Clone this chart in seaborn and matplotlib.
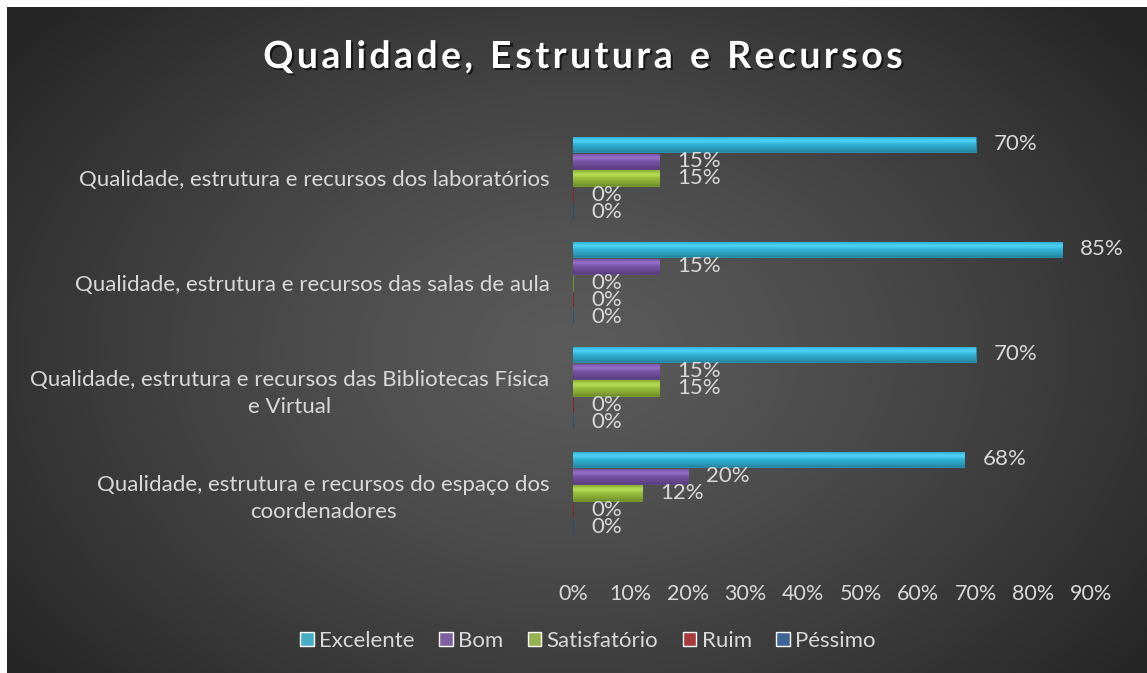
import numpy as np
import pandas as pd
import matplotlib
matplotlib.use("Agg")
import matplotlib.pyplot as plt
import matplotlib.patheffects as pe
from matplotlib.colors import to_rgb
from matplotlib.ticker import PercentFormatter
import seaborn as sns

categories = [
    "Qualidade, estrutura e recursos dos laboratórios",
    "Qualidade, estrutura e recursos das salas de aula",
    "Qualidade, estrutura e recursos das Bibliotecas Física\ne Virtual",
    "Qualidade, estrutura e recursos do espaço dos\ncoordenadores",
]
series = ["Excelente", "Bom", "Satisfatório", "Ruim", "Péssimo"]
excelente = [0.70, 0.85, 0.70, 0.68]
bom = [0.15, 0.15, 0.15, 0.20]
satisfatorio = [0.15, 0.00, 0.15, 0.12]
ruim = [0.00, 0.00, 0.00, 0.00]
pessimo = [0.00, 0.00, 0.00, 0.00]
xticks = [0.0, 0.1, 0.2, 0.3, 0.4, 0.5, 0.6, 0.7, 0.8, 0.9]
title = "Qualidade, Estrutura e Recursos"

colors = ["#33b9de", "#7c56ad", "#9cc43c", "#b8282b", "#2f62a6"]
edge_colors = ["#2792b3", "#5f4290", "#7aa02a", "#8a1c1f", "#234c84"]

rows = []
for s, vals in zip(series, [excelente, bom, satisfatorio, ruim, pessimo]):
    for c, v in zip(categories, vals):
        rows.append({"categoria": c, "serie": s, "valor": v})
df = pd.DataFrame(rows)

sns.set_style("white")
plt.rcParams["font.family"] = ["Lato", "DejaVu Sans"]

W, H = 1147, 673
fig = plt.figure(figsize=(W / 100, H / 100), dpi=100, facecolor="white")

# radial gradient background
bg = fig.add_axes([7 / W, 0, (W - 7) / W, (H - 7) / H])
bw, bh = W - 7, H - 7
yy, xx = np.mgrid[0:bh, 0:bw]
cx, cy = bw * 0.50, bh * 0.52
d = np.sqrt(((xx - cx) / (bw * 0.62)) ** 2 + ((yy - cy) / (bh * 0.75)) ** 2)
d = np.clip(d, 0, 1)
val = 0.355 - (0.355 - 0.15) * d ** 1.3
img = np.dstack([val, val, val])
bg.imshow(img, aspect="auto", extent=[0, 1, 0, 1], interpolation="bilinear")
bg.set_axis_off()

ax = fig.add_axes([573 / W, 1 - 545.5 / H, (1091 - 573) / W, (545.5 - 125.5) / H])
ax.set_facecolor("none")
sns.barplot(data=df, y="categoria", x="valor", hue="serie", order=categories,
            hue_order=series, palette=colors, orient="h", width=0.8, gap=0.1,
            ax=ax, legend=True)

ax.set_xlim(0, 0.9)
ax.set_ylim(len(categories) - 0.5, -0.5)

# soft cylinder-like shading on each bar, clipped to the bar itself
n = 48
tvals = np.linspace(0, 1, n)
shade = 1.0 - 0.28 * tvals ** 2.5 - 0.12 * np.exp(-(tvals / 0.08) ** 2)
hl = 0.10 * np.exp(-((tvals - 0.3) / 0.15) ** 2)
for cont, col, ec in zip(ax.containers, colors, edge_colors):
    base = np.array(to_rgb(col))
    grad = np.clip(base[None, :] * shade[:, None] + hl[:, None], 0, 1)[:, None, :]
    for p in cont:
        p.set_edgecolor(ec)
        p.set_linewidth(0.6)
        w = p.get_width()
        if w > 0:
            y0, hgt = p.get_y(), p.get_height()
            im = ax.imshow(grad, extent=[0, w, y0 + hgt, y0], aspect="auto",
                           interpolation="bilinear", zorder=p.get_zorder() + 0.1)
            im.set_clip_path(p)
    labels = [f"{p.get_width():.0%}" for p in cont]
    ax.bar_label(cont, labels=labels, padding=13, color="#d9d9d9", fontsize=16)

ax.set_xlim(0, 0.9)
ax.set_ylim(len(categories) - 0.5, -0.5)
ax.set_xticks(xticks)
ax.xaxis.set_major_formatter(PercentFormatter(1, decimals=0))
ax.set_xlabel("")
ax.set_ylabel("")
for s in ax.spines.values():
    s.set_visible(False)
ax.tick_params(axis="x", length=0, pad=28, labelsize=15.5, labelcolor="#d9d9d9")
ax.tick_params(axis="y", length=0, pad=17, labelsize=16, labelcolor="#d9d9d9")
for t in ax.get_yticklabels():
    t.set_multialignment("center")
    t.set_linespacing(1.45)
ax.grid(False)

handles, labs = ax.get_legend_handles_labels()
ax.get_legend().remove()
fig.legend(handles, labs, loc="center", bbox_to_anchor=(588 / W, 1 - 641 / H), ncol=5,
           frameon=False, fontsize=16, labelcolor="#d9d9d9", handlelength=0.6,
           handleheight=0.6, handletextpad=0.25, columnspacing=1.1)

# title with letter spacing (drawn character by character)
renderer = fig.canvas.get_renderer()
shadow = [pe.withSimplePatchShadow(offset=(1.5, -1.5), shadow_rgbFace="black", alpha=0.6)]
tkw = dict(fontsize=27, fontweight="bold", color="white", va="center", ha="left",
           path_effects=shadow)
spacing = 3.4
widths = []
for ch in title:
    if ch == " ":
        tt = fig.text(0, 0, "a", **tkw)
        w = tt.get_window_extent(renderer).width * 0.55
    else:
        tt = fig.text(0, 0, ch, **tkw)
        w = tt.get_window_extent(renderer).width
    tt.remove()
    widths.append(w)
total = sum(widths) + spacing * (len(title) - 1)
x = 583 - total / 2
for ch, w in zip(title, widths):
    if ch != " ":
        fig.text(x / W, 1 - 57 / H, ch, **tkw)
    x += w + spacing

fig.savefig("out.png", dpi=100, facecolor="white")
